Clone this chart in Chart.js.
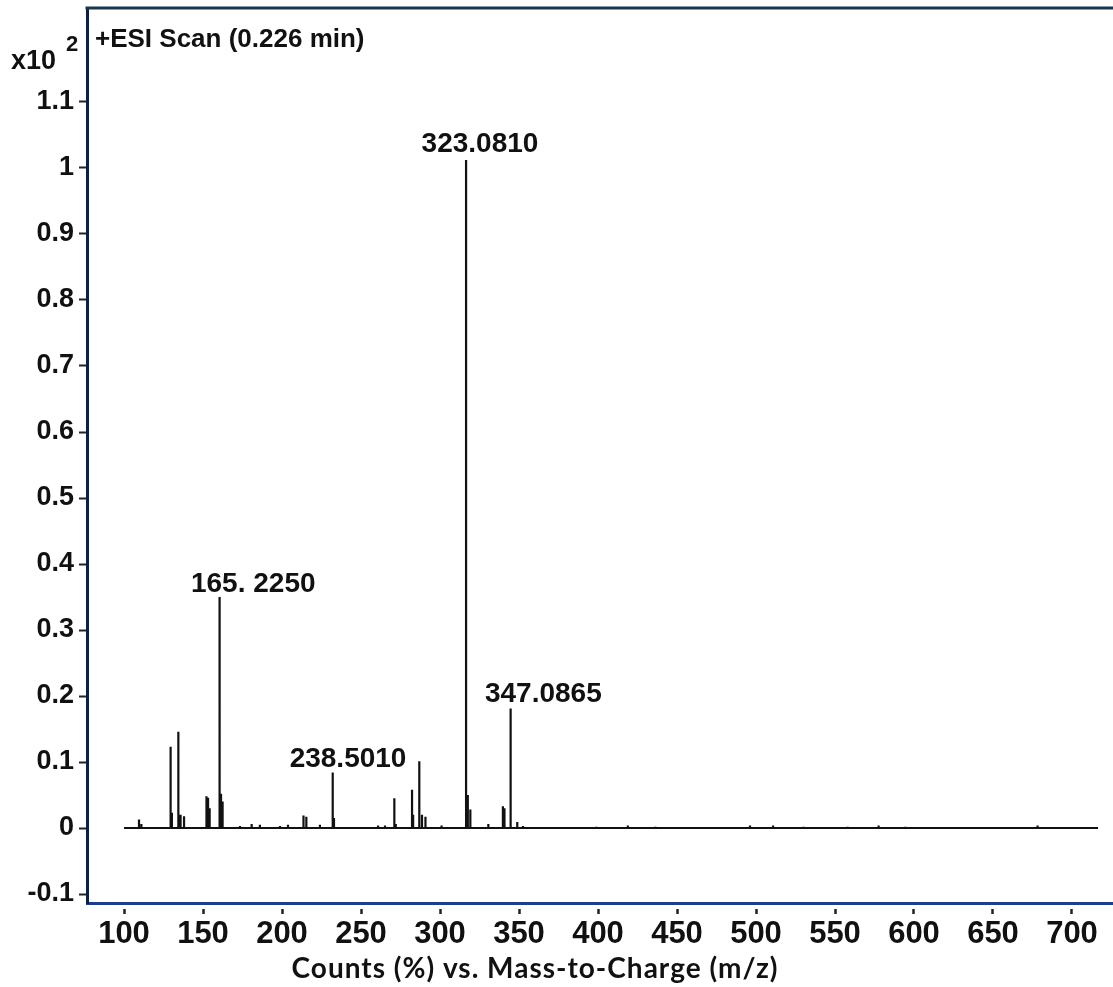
<!DOCTYPE html>
<html>
<head>
<meta charset="utf-8">
<title>+ESI Scan (0.226 min)</title>
<script src="https://cdn.jsdelivr.net/npm/chart.js@4.4.0/dist/chart.umd.min.js"></script>
<style>
  html, body { margin: 0; padding: 0; background: #fff; }
  #wrap { width: 1113px; height: 987px; }
</style>
</head>
<body>
<div id="wrap"><canvas id="spectrum" width="1113" height="987"></canvas></div>
<script>
// stick spectrum, m/z as drawn on the axis and counts in x10^2
var peakMz = [
  109.5, 111.0, 129.5, 130.3, 134.4, 135.8, 138.0, 152.2, 153.2, 154.2,
  160.5, 161.4, 162.4, 173.4, 180.8, 186.0, 198.7, 203.8, 213.6, 215.4,
  224.0, 232.1, 232.9, 260.8, 265.2, 271.1, 272.0, 282.3, 283.0, 286.9,
  288.6, 290.8, 301.0, 316.5, 317.6, 319.2, 330.6, 339.8, 340.8, 344.7,
  348.9, 352.5, 399.0, 418.9, 436.3, 496.2, 510.8, 530.1, 557.9, 577.6,
  594.6, 678.2
];
var peakHeight = [
  0.013, 0.006, 0.123, 0.023, 0.146, 0.020, 0.018, 0.048, 0.046, 0.030,
  0.350, 0.052, 0.040, 0.003, 0.006, 0.005, 0.003, 0.005, 0.019, 0.017,
  0.005, 0.084, 0.015, 0.004, 0.004, 0.045, 0.006, 0.058, 0.020, 0.101,
  0.020, 0.017, 0.004, 1.012, 0.050, 0.028, 0.006, 0.033, 0.030, 0.181,
  0.009, 0.003, 0.002, 0.004, 0.002, 0.004, 0.004, 0.002, 0.002, 0.004,
  0.002, 0.004
];
var scanStart = 100;
var scanEnd = 716.5;

// annotated peaks (text, centre m/z, baseline in counts)
var peakLabels = ['323.0810', '165. 2250', '238.5010', '347.0865'];
var peakLabelMz = [325.3, 181.8, 241.8, 365.4];
var peakLabelY = [1.024, 0.358, 0.093, 0.191];

var xTicks = [100, 150, 200, 250, 300, 350, 400, 450, 500, 550, 600, 650, 700];
var xTickLabels = ['100', '150', '200', '250', '300', '350', '400', '450', '500', '550', '600', '650', '700'];
var yTicks = [-0.1, 0, 0.1, 0.2, 0.3, 0.4, 0.5, 0.6, 0.7, 0.8, 0.9, 1, 1.1];
var yTickLabels = ['-0.1', '0', '0.1', '0.2', '0.3', '0.4', '0.5', '0.6', '0.7', '0.8', '0.9', '1', '1.1'];

var scanTitle = '+ESI Scan (0.226 min)';
var xTitle = 'Counts (%) vs. Mass-to-Charge (m/z)';

function buildSticks() {
  var pts = [{x: scanStart, y: 0}];
  for (var i = 0; i < peakMz.length; i++) {
    pts.push({x: peakMz[i], y: 0});
    pts.push({x: peakMz[i], y: peakHeight[i]});
    pts.push({x: peakMz[i], y: 0});
  }
  pts.push({x: scanEnd, y: 0});
  return pts;
}

var arial = '"Liberation Sans", Arial, sans-serif';

var annotations = {
  id: 'annotations',
  afterDatasetsDraw: function(chart) {
    var ctx = chart.ctx;
    var area = chart.chartArea;
    var xs = chart.scales.x;
    var ys = chart.scales.y;

    ctx.save();

    // top frame line
    ctx.strokeStyle = '#173650';
    ctx.lineWidth = 3;
    ctx.beginPath();
    ctx.moveTo(area.left - 1.5, area.top);
    ctx.lineTo(area.right, area.top);
    ctx.stroke();

    ctx.fillStyle = '#111';
    ctx.textBaseline = 'alphabetic';

    // peak labels
    ctx.font = 'bold 28px ' + arial;
    ctx.textAlign = 'center';
    for (var i = 0; i < peakLabels.length; i++) {
      ctx.fillText(peakLabels[i], xs.getPixelForValue(peakLabelMz[i]), ys.getPixelForValue(peakLabelY[i]));
    }

    // scan title
    ctx.textAlign = 'left';
    ctx.font = 'bold 26px ' + arial;
    ctx.fillText(scanTitle, area.left + 8, area.top + 39);

    // exponent
    ctx.font = 'bold 27px ' + arial;
    ctx.fillText('x10', 11, 69);
    ctx.font = 'bold 22px ' + arial;
    ctx.fillText('2', 66, 51);

    // axis title
    ctx.textAlign = 'center';
    ctx.font = 'bold 28px Lato, "Open Sans", sans-serif';
    ctx.letterSpacing = '1px';
    ctx.fillText(xTitle, 535, 978);

    ctx.restore();
  }
};

var ctx = document.getElementById('spectrum');
var chart = new Chart(ctx, {
  type: 'line',
  data: {
    datasets: [{
      data: buildSticks(),
      borderColor: '#111',
      borderWidth: 2.2,
      borderJoinStyle: 'bevel',
      pointRadius: 0,
      tension: 0,
      fill: false
    }]
  },
  options: {
    responsive: false,
    animation: false,
    events: [],
    layout: { padding: { top: 8, left: 0, right: 0, bottom: 0 } },
    plugins: {
      legend: { display: false },
      tooltip: { enabled: false }
    },
    scales: {
      x: {
        type: 'linear',
        min: 76.58,
        max: 725.95,
        afterBuildTicks: function(scale) {
          scale.ticks = xTicks.map(function(v) { return {value: v}; });
        },
        afterFit: function(scale) {
          scale.height = 84;
          scale.paddingLeft = 0;
          scale.paddingRight = 0;
        },
        border: { display: true, color: '#1b3f8c', width: 3 },
        grid: {
          drawOnChartArea: false,
          tickLength: 11,
          tickWidth: 2.5,
          tickColor: '#222',
          tickBorderDash: [0, 4, 5, 40]
        },
        ticks: {
          autoSkip: false,
          maxRotation: 0,
          padding: 2,
          color: '#111',
          font: { family: arial, weight: 'bold', size: 31 },
          callback: function(value, index) { return xTickLabels[index]; }
        }
      },
      y: {
        type: 'linear',
        min: -0.1136,
        max: 1.2424,
        afterBuildTicks: function(scale) {
          scale.ticks = yTicks.map(function(v) { return {value: v}; });
        },
        afterFit: function(scale) {
          scale.width = 87;
          scale.paddingTop = 0;
          scale.paddingBottom = 0;
        },
        border: { display: true, color: '#0e1f45', width: 3 },
        grid: {
          drawOnChartArea: false,
          tickLength: 8,
          tickWidth: 2,
          tickColor: '#222'
        },
        ticks: {
          autoSkip: false,
          padding: 5,
          color: '#111',
          font: { family: arial, weight: 'bold', size: 27 },
          callback: function(value, index) { return yTickLabels[index]; }
        }
      }
    }
  },
  plugins: [annotations]
});
</script>
</body>
</html>
